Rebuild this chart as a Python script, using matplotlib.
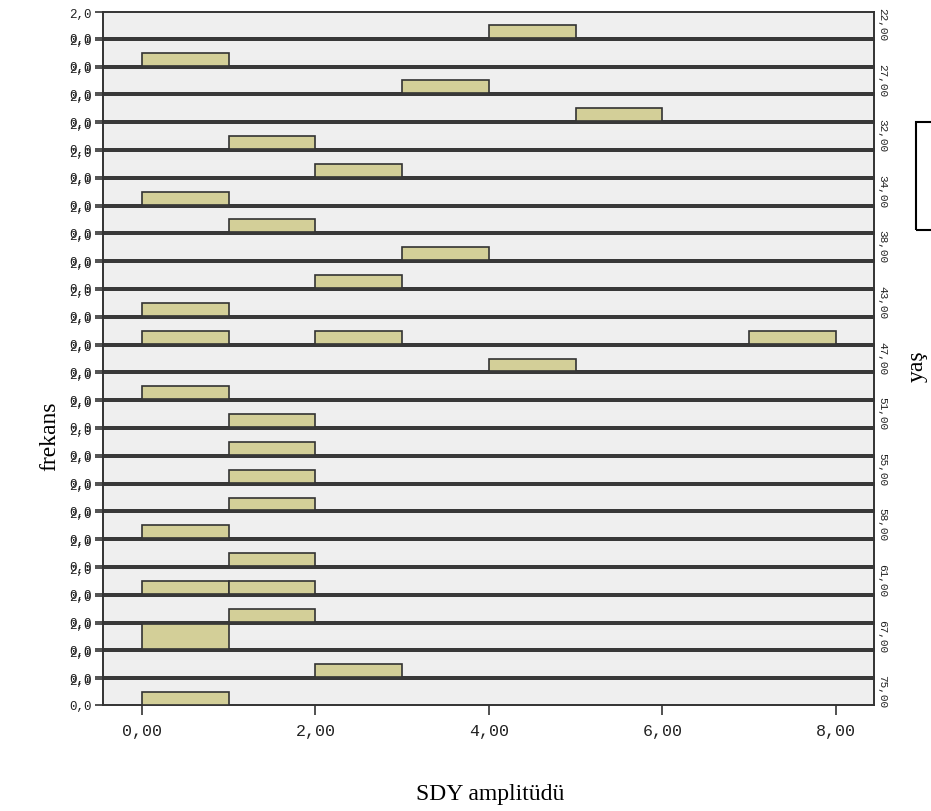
import numpy as np
import matplotlib
matplotlib.use("Agg")
import matplotlib.pyplot as plt
from matplotlib.patches import Rectangle

# ---- data ----
# bin starts (SDY amplitude bins, width 1) observed in each age panel, top to bottom
panel_bins = [
    [4], [0], [3], [5], [1], [2], [0], [1], [3], [2],
    [0], [0, 2, 7], [4], [0], [1], [1], [1], [1], [0], [1],
    [0, 1], [1], [0, 0], [2], [0],
]
age_labels = [
    "22,00", "", "27,00", "", "32,00", "", "34,00", "", "38,00", "",
    "43,00", "", "47,00", "", "51,00", "", "55,00", "", "58,00", "",
    "61,00", "", "67,00", "", "75,00",
]
x_ticks = [0, 2, 4, 6, 8]
x_ticklabels = ["0,00", "2,00", "4,00", "6,00", "8,00"]
y_ticks = [0, 2]
y_ticklabels = ["0,0", "2,0"]
x_label = "SDY amplitüdü"
y_label = "frekans"
panel_label = "yaş"

# ---- style ----
W, H = 931, 812
bar_color = "#D3CF98"
line_col = "#333333"
bg = "#EFEFEF"
mono = "Liberation Mono"
serif = "Liberation Serif"

fig = plt.figure(figsize=(W / 100, H / 100), dpi=100)
n = len(panel_bins)
gs = fig.add_gridspec(n, 1, left=103 / W, right=874 / W,
                      top=1 - 13 / H, bottom=1 - 706 / H, hspace=0.08)

for i, bins in enumerate(panel_bins):
    ax = fig.add_subplot(gs[i, 0])
    ax.set_facecolor(bg)
    starts, counts = np.unique(bins, return_counts=True)
    ax.bar(starts, counts, width=1.0, align="edge", color=bar_color,
           edgecolor=line_col, linewidth=1.2, zorder=3)
    ax.set_xlim(-0.45, 8.44)
    ax.set_ylim(0, 2)
    ax.set_yticks(y_ticks)
    ax.set_yticklabels(y_ticklabels, fontfamily=mono, fontsize=9, color="#222222")
    ax.tick_params(axis="y", length=6, width=1.2, color=line_col, pad=2)
    for sp in ax.spines.values():
        sp.set_color(line_col)
        sp.set_linewidth(1.4)
    if i < n - 1:
        ax.set_xticks([])
    else:
        ax.set_xticks(x_ticks)
        ax.set_xticklabels(x_ticklabels, fontfamily=mono, fontsize=12, color="#222222")
        ax.tick_params(axis="x", length=7, width=1.2, color=line_col, pad=6)
    if age_labels[i]:
        ax.text(1.004, 0.55, age_labels[i], transform=ax.transAxes, rotation=270,
                ha="left", va="center", fontfamily=mono, fontsize=8, color="#222222")

fig.text(50 / W, 1 - 436 / H, y_label, rotation=90, ha="center", va="center",
         fontfamily=serif, fontsize=17)
fig.text(917 / W, 1 - 366 / H, panel_label, rotation=90, ha="center", va="center",
         fontfamily=serif, fontsize=17)
fig.text(490 / W, 1 - 795 / H, x_label, ha="center", va="center",
         fontfamily=serif, fontsize=17)

fig.patches.append(Rectangle((916 / W, 1 - 231 / H), 30 / W, 108 / H,
                             transform=fig.transFigure, fill=False,
                             edgecolor="black", linewidth=1.5))

fig.savefig("out.png", dpi=100)
